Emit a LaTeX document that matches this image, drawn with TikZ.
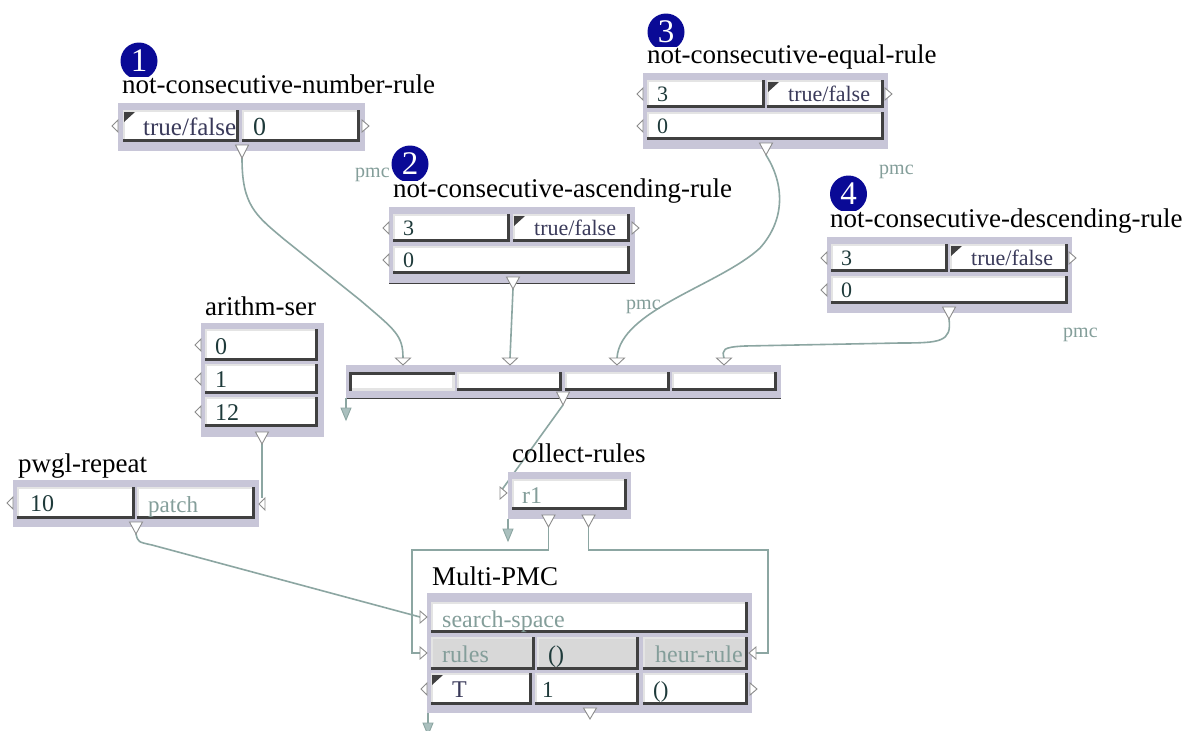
\documentclass[tikz,border=0pt]{standalone}
\usepackage{fontspec}
\setmainfont{Liberation Serif}
\definecolor{boxgray}{HTML}{C8C6D8}
\definecolor{darkedge}{HTML}{404040}
\definecolor{lightedge}{HTML}{E4E4E4}
\definecolor{cablecol}{HTML}{8CA6A2}
\definecolor{valtext}{HTML}{1E3A3A}
\definecolor{tftext}{HTML}{3A3A5A}
\definecolor{hinttext}{HTML}{849E9A}
\definecolor{badgecol}{HTML}{0A0A96}
\definecolor{trigray}{HTML}{8C8C8C}
\definecolor{stubfill}{HTML}{AAC0BE}
\definecolor{rowgray}{HTML}{D8D8D8}
\tikzset{
  boxbg/.style={fill=boxgray},
  ptitle/.style={anchor=base west, inner sep=0pt, font=\fontsize{27}{30}\selectfont},
  val/.style={anchor=base west, inner sep=0pt, text=valtext, font=\fontsize{#1}{#1}\selectfont},
  tf/.style={anchor=base west, inner sep=0pt, text=tftext, font=\fontsize{#1}{#1}\selectfont},
  hint/.style={anchor=base west, inner sep=0pt, text=hinttext, font=\fontsize{#1}{#1}\selectfont},
  pmclab/.style={anchor=base west, inner sep=0pt, text=hinttext, font=\fontsize{20}{20}\selectfont},
  digit/.style={anchor=base, inner sep=0pt, text=white, text height=22pt, text depth=0pt, font=\fontsize{33}{33}\selectfont},
  tri/.style={draw=trigray, fill=white, line width=0.9pt, line join=miter},
  cable/.style={draw=cablecol, line width=1.6pt},
  stubtri/.style={draw=cablecol, fill=stubfill, line width=0.9pt, line join=miter},
}
% field with 3D edges: x1 y1 x2 y2 fill
\newcommand\pfield[5]{%
  \fill[#5] (#1,#2) rectangle (#3,#4);
  \fill[lightedge] (#1,#2) rectangle (#3,#2+2);
  \fill[lightedge] (#1,#2) rectangle (#1+2,#4);
  \fill[darkedge] (#1,#4-3) rectangle (#3,#4);
  \fill[darkedge] (#3-3,#2) rectangle (#3,#4);
}
\newcommand\pfieldinv[4]{%
  \fill[white] (#1,#2) rectangle (#3,#4);
  \fill[lightedge] (#1,#4-3) rectangle (#3,#4);
  \fill[lightedge] (#3-3,#2) rectangle (#3,#4);
  \fill[darkedge] (#1,#2) rectangle (#3,#2+3);
  \fill[darkedge] (#1,#2) rectangle (#1+3,#4);
}
\newcommand\pmarker[2]{\fill[darkedge] (#1,#2) -- (#1+11,#2) -- (#1,#2+10) -- cycle;}
\newcommand\ptdn[3]{\draw[tri] (#1-6.5,#2) -- (#1+6.5,#2) -- (#1,#2+#3) -- cycle;}
\newcommand\ptin[2]{\draw[tri] (#1-7.5,#2) -- (#1+7.5,#2) -- (#1,#2+7) -- cycle;}
\newcommand\ptlt[2]{\draw[tri] (#1,#2) -- (#1+6,#2-6) -- (#1+6,#2+6) -- cycle;}
\newcommand\ptrt[2]{\draw[tri] (#1,#2-6) -- (#1+7,#2) -- (#1,#2+6) -- cycle;}
\newcommand\pstub[2]{%
  \draw[cablecol, line width=1.6pt] (#1,#2) -- (#1,#2+10);
  \draw[stubtri] (#1-5,#2+10) -- (#1+5,#2+10) -- (#1,#2+22) -- cycle;}
\newcommand\pbadge[5]{%
  \begin{scope}
    \clip (#2-22,#3-22) rectangle (#2+22,#4);
    \fill[badgecol] (#2,#3) circle[radius=18.5pt];
  \end{scope}
  \node[digit] (#1) at (#2,#3+10.5) {#5};
}
\begin{document}
\begin{tikzpicture}[x=1pt,y=-1pt]
\useasboundingbox (0,0) rectangle (1192,731);
\fill[white] (0,0) rectangle (1192,731);

% ---------- cable end points ----------
\coordinate (o1) at (242,158);   \coordinate (i1) at (403,358);
\coordinate (o2) at (513,289);   \coordinate (i2) at (510,358);
\coordinate (o3) at (766,155);   \coordinate (i3) at (617,358);
\coordinate (o4) at (949,319);   \coordinate (i4) at (724,358);
\coordinate (obar) at (563,405); \coordinate (icr) at (501,491);
\coordinate (oar) at (262,444);  \coordinate (ipr) at (262,498);
\coordinate (opr) at (136,534);  \coordinate (iss) at (420,617);
\coordinate (ocr1) at (548.5,527); \coordinate (irules) at (420,653);
\coordinate (ocr2) at (588.5,527); \coordinate (iheur) at (756,653);

% ---------- cables ----------
\draw[cable] (o1) .. controls (242,205) and (255,215) .. (285,240) -- (360,300) .. controls (395,330) and (403,335) .. (i1);
\draw[cable] (o2) -- (i2);
\draw[cable] (o3) .. controls (785,185) and (785,220) .. (760,248) .. controls (720,285) and (620,310) .. (i3);
\draw[cable] (o4) .. controls (952,342) and (940,343) .. (900,343) -- (745,346) .. controls (722,347) and (722,350) .. (i4);
\draw[cable] (obar) -- (icr);
\draw[cable] (oar) -- (ipr);
\draw[cable] (opr) .. controls (138,542) .. (152,545) -- (iss);
\draw[cable] (ocr1) -- (548.5,550) -- (412,550) -- (412,653) -- (irules);
\draw[cable] (ocr2) -- (588.5,550) -- (768,550) -- (768,653) -- (iheur);

% ---------- pmc labels ----------
\node[pmclab] (pmcA) at (355,177) {pmc};
\node[pmclab] (pmcB) at (879,174) {pmc};
\node[pmclab] (pmcC) at (626,309) {pmc};
\node[pmclab] (pmcD) at (1063,337) {pmc};

% ---------- box 1: not-consecutive-number-rule ----------
\fill[boxbg] (118,103) rectangle (365,151);
\pfield{123}{110}{239}{142}{white}
\pfield{242}{110}{360}{142}{white}
\pmarker{124}{112}
\node[tf=25] (b1tf) at (143,135) {true/false};
\node[val=26] (b1v) at (253,135) {0};
\ptlt{112}{126} \ptrt{362}{126}
\ptdn{242}{145}{13}
\node[ptitle] (t1) at (122,93) {not-consecutive-number-rule};
\pbadge{n1}{139}{61}{76}{1}

% ---------- box 2: not-consecutive-ascending-rule ----------
\fill[boxbg] (389,207) rectangle (635,283);
\draw[darkedge, line width=1pt] (389,283) -- (635,283);
\pfield{393}{214}{510}{242}{white}
\pfield{513}{214}{630}{242}{white}
\pfield{393}{246}{630}{274}{white}
\pmarker{514}{216}
\node[val=22] (b2a) at (403,235) {3};
\node[tf=22] (b2tf) at (534,235) {true/false};
\node[val=22] (b2b) at (403,267) {0};
\ptlt{383}{228} \ptlt{383}{260} \ptrt{632}{228}
\ptdn{513}{277}{12}
\node[ptitle] (t2) at (393,197) {not-consecutive-ascending-rule};
\pbadge{n2}{410}{164}{180}{2}

% ---------- box 3: not-consecutive-equal-rule ----------
\fill[boxbg] (643,73) rectangle (888,149);
\pfield{647}{80}{765}{108}{white}
\pfield{767}{80}{884}{108}{white}
\pfield{647}{112}{884}{140}{white}
\pmarker{768}{82}
\node[val=22] (b3a) at (657,101) {3};
\node[tf=22] (b3tf) at (788,101) {true/false};
\node[val=22] (b3b) at (657,133) {0};
\ptlt{637}{94} \ptlt{637}{126} \ptrt{885}{94}
\ptdn{766}{143}{12}
\node[ptitle] (t3) at (647,63) {not-consecutive-equal-rule};
\pbadge{n3}{666}{32}{46}{3}

% ---------- box 4: not-consecutive-descending-rule ----------
\fill[boxbg] (827,237) rectangle (1072,313);
\pfield{831}{244}{948}{272}{white}
\pfield{950}{244}{1068}{272}{white}
\pfield{831}{276}{1068}{304}{white}
\pmarker{951}{246}
\node[val=22] (b4a) at (841,265) {3};
\node[tf=22] (b4tf) at (971,265) {true/false};
\node[val=22] (b4b) at (841,297) {0};
\ptlt{821}{258} \ptlt{821}{290} \ptrt{1069}{258}
\ptdn{949}{307}{12}
\node[ptitle] (t4) at (830,227) {not-consecutive-descending-rule};
\pbadge{n4}{848.5}{194}{210}{4}

% ---------- central list box ----------
\fill[boxbg] (346,365) rectangle (781,398);
\draw[darkedge, line width=1pt] (346,398) -- (781,398);
\pfieldinv{349}{372}{455}{391}
\pfield{457}{372}{562}{391}{white}
\pfield{565}{372}{670}{391}{white}
\pfield{672}{372}{777}{391}{white}
\ptin{403}{358} \ptin{510}{358} \ptin{617}{358} \ptin{724}{358}
\ptdn{563}{392}{13}
\pstub{346}{398}

% ---------- arithm-ser ----------
\fill[boxbg] (201,323) rectangle (324,437);
\pfield{205}{329}{318}{361}{white}
\pfield{205}{364}{318}{394}{white}
\pfield{205}{397}{318}{427}{white}
\node[val=24] (a1) at (215,354) {0};
\node[val=24] (a2) at (215,387) {1};
\node[val=24] (a3) at (215,420) {12};
\ptlt{195}{345} \ptlt{195}{379} \ptlt{195}{412}
\ptdn{262}{432}{12}
\node[ptitle] (ta) at (205,315) {arithm-ser};

% ---------- pwgl-repeat ----------
\fill[boxbg] (13,480) rectangle (259,527);
\pfield{17}{487}{135}{519}{white}
\pfield{137}{487}{255}{519}{white}
\node[val=24] (p1) at (30,511) {10};
\node[hint=23] (p2) at (148,512) {patch};
\ptlt{7}{503} \ptlt{259}{504}
\ptdn{136}{522}{12}
\node[ptitle] (tp) at (18,472) {pwgl-repeat};

% ---------- collect-rules ----------
\fill[boxbg] (508,472) rectangle (631,519);
\pfield{512}{479}{627}{510}{white}
\node[hint=24] (c1) at (522,503) {r1};
\ptrt{500}{493}
\ptdn{548.5}{515}{12} \ptdn{588.5}{515}{12}
\pstub{508}{519}
\node[ptitle] (tc) at (512,462) {collect-rules};

% ---------- Multi-PMC ----------
\fill[boxbg] (427,593) rectangle (752,713);
\pfield{431}{602}{748}{633}{white}
\pfield{431}{637}{535}{670}{rowgray}
\pfield{537}{637}{639}{670}{rowgray}
\pfield{643}{637}{748}{670}{rowgray}
\pfield{431}{673}{532}{705}{white}
\pfield{535}{673}{639}{705}{white}
\pfield{643}{673}{748}{705}{white}
\pmarker{432}{675}
\node[hint=24] (m1) at (442,627) {search-space};
\node[hint=24] (m2) at (442,662) {rules};
\node[val=24] (m3) at (548,662) {()};
\node[hint=24] (m4) at (655,662) {heur-rule};
\node[tf=24] (m5) at (452,697) {T};
\node[val=23] (m6) at (542,697) {1};
\node[val=23] (m7) at (653,697) {()};
\ptrt{420}{617} \ptrt{420}{653} \draw[tri] (756,647) -- (749,653) -- (756,659) -- cycle;
\ptlt{421}{689} \ptrt{750}{689}
\ptdn{590}{708}{11}
\pstub{428}{713}
\node[ptitle] (tm) at (432,585) {Multi-PMC};
\end{tikzpicture}
\end{document}
